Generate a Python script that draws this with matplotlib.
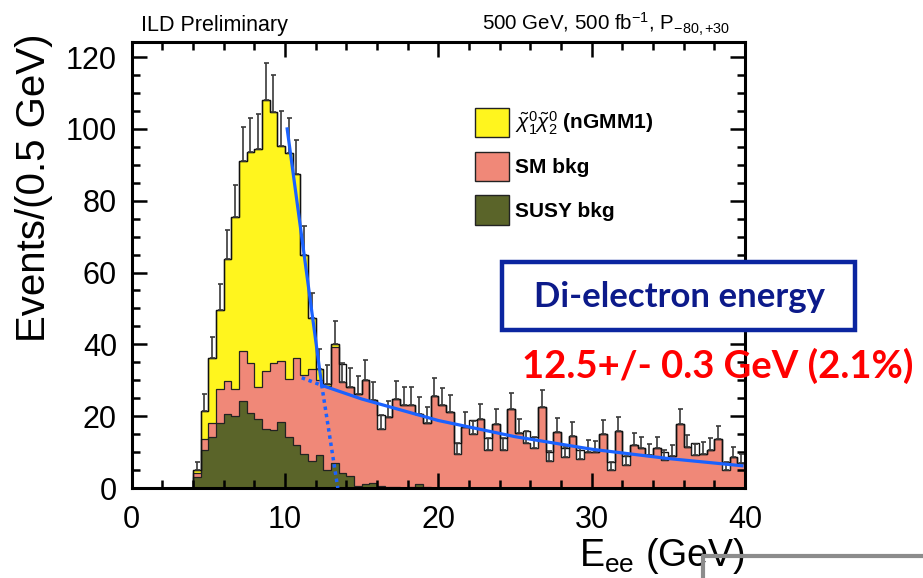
import numpy as np
import matplotlib
matplotlib.use('agg')
import matplotlib.pyplot as plt
from matplotlib.patches import Patch, Rectangle
from matplotlib.lines import Line2D
from matplotlib.ticker import MultipleLocator

plt.rcParams['font.family'] = ['Liberation Sans', 'DejaVu Sans']
plt.rcParams['mathtext.fontset'] = 'custom'
plt.rcParams['mathtext.rm'] = 'Liberation Sans'
plt.rcParams['mathtext.it'] = 'Liberation Sans:italic'
plt.rcParams['mathtext.bf'] = 'Liberation Sans:bold'

### data (0.5 GeV bins from 0 to 40 GeV, first 8 bins empty)
edges = np.arange(0, 40.5, 0.5)
n_empty = 8

susy = [3.1, 10.5, 14.2, 18.0, 20.6, 20.1, 24.1, 20.8, 19.2, 16.4, 16.2, 18.5, 14.1, 12.0,
        9.4, 7.4, 9.3, 5.1, 7.0, 4.3, 3.4, 0.5, 1.0, 1.3, 0.5, 0.3, 0.2, 0.0, 0.3, 1.0, 0.2] + [0.0] * 41
sm = [1.1, 3.1, 4.0, 9.5, 9.3, 7.4, 14.1, 14.1, 8.8, 16.2, 18.5, 17.0, 16.2, 24.1, 22.1, 25.6,
      20.7, 23.4, 32.4, 25.1, 24.7, 25.6, 29.2, 23.3, 15.8, 19.5, 24.7, 23.2, 22.9, 19.7, 18.0,
      25.5, 23.1, 21.2, 9.4, 17.0, 14.9, 19.1, 10.6, 17.8, 10.6, 21.9, 15.2, 12.4, 11.0, 22.6,
      7.6, 15.5, 8.5, 14.5, 8.2, 10.1, 9.9, 15.0, 5.0, 15.8, 6.4, 11.9, 11.0, 9.2, 11.0, 7.8,
      8.9, 17.7, 11.5, 9.2, 9.6, 10.6, 13.6, 5.0, 8.5, 6.9]
sig = [0.9, 7.9, 17.9, 22.2, 34.0, 48.1, 52.8, 58.6, 66.4, 75.4, 70.1, 59.7, 63.0, 51.4, 33.3,
       14.4, 3.0, 0.5, 0.8] + [0.0] * 53

# bins where the pseudo-data sits above the stack
excess_at = [13.75, 16.25, 21.25, 22.25, 23.25, 24.25, 25.75, 26.25, 27.25, 28.25, 29.25,
             31.25, 32.25, 34.75, 36.75, 38.75]
excess_top = [34.6, 20.3, 12.4, 18.9, 13.8, 13.8, 15.8, 14.3, 10.1, 11.2, 10.7, 7.3, 8.9,
              10.1, 12.6, 7.3]

# fit curves
edge_x = [10.15, 12.4]
edge_y = [100.0, 28.7]
edge_ext_x = [12.4, 13.45]
edge_ext_y = [28.7, 0.0]
bkg_dot_x = [11.1, 12.4]
bkg_dot_y = [30.7, 28.6]
bkg_x = [12.4, 15, 20, 25, 30, 35, 39.8]
bkg_y = [28.6, 24.8, 18.8, 14.3, 10.8, 8.2, 6.2]

c_sig = '#fff51e'
c_sm = '#f08878'
c_susy = '#5a6429'
c_fit = '#1a62ff'

susy = np.r_[np.zeros(n_empty), susy]
sm = np.r_[np.zeros(n_empty), sm]
sig = np.r_[np.zeros(n_empty), sig]
lvl1 = susy
lvl2 = susy + sm
total = susy + sm + sig
centers = 0.5 * (edges[1:] + edges[:-1])
data = total.copy()
data[np.searchsorted(centers, excess_at)] = excess_top

W, H = 923, 578
fig = plt.figure(figsize=(W / 100, H / 100), dpi=100)
ax = fig.add_axes([131.5 / W, 90 / H, 613.5 / W, 446 / H])

ax.stairs(lvl1, edges, baseline=0, fill=True, color=c_susy, lw=0)
ax.stairs(lvl2, edges, baseline=lvl1, fill=True, color=c_sm, lw=0)
ax.stairs(total, edges, baseline=lvl2, fill=True, color=c_sig, lw=0)
for lv in [lvl1, lvl2, total]:
    ax.stairs(lv, edges, color='#222222', lw=0.9)
ax.stairs(data, edges, color='#111111', lw=1.0)

m = total > 0
ax.errorbar(centers[m], total[m], yerr=[np.zeros(m.sum()), np.sqrt(total[m])], fmt='none',
            ecolor='#3a3a3a', elinewidth=1.2, capsize=1.8, capthick=1.2, zorder=3)

ax.plot(edge_x, edge_y, color=c_fit, lw=2.3, zorder=4)
ax.plot(edge_ext_x, edge_ext_y, color=c_fit, lw=2.5, ls=(0, (1, 1.1)), zorder=4)
ax.plot(bkg_dot_x, bkg_dot_y, color=c_fit, lw=2.5, ls=(0, (1, 1.1)), zorder=4)
ax.plot(bkg_x, bkg_y, color=c_fit, lw=2.3, zorder=4)

ax.set_xlim(0, 40)
ax.set_ylim(0, 124.2)
ax.xaxis.set_major_locator(MultipleLocator(10))
ax.xaxis.set_minor_locator(MultipleLocator(2))
ax.yaxis.set_major_locator(MultipleLocator(20))
ax.yaxis.set_minor_locator(MultipleLocator(5))
ax.tick_params(which='both', direction='in', top=True, right=True, width=1.8, labelsize=22)
ax.tick_params(which='major', length=11)
ax.tick_params(which='minor', length=5.5)
ax.tick_params(axis='x', pad=12)
ax.tick_params(axis='y', pad=10.5)
for s in ax.spines.values():
    s.set_linewidth(2.2)

def fx(x):
    return x / W

def fy(y):
    return 1 - y / H

fig.text(fx(34), fy(33), 'Events/(0.5 GeV)', rotation=90, ha='center', va='top', fontsize=29)
fig.text(fx(745), fy(566), r'E$_{\rm ee}$ (GeV)', ha='right', va='baseline', fontsize=27)
fig.text(fx(141), fy(31), 'ILD Preliminary', ha='left', va='baseline', fontsize=15.5)
fig.text(fx(482), fy(31), r'500 GeV, 500 fb$^{-1}$, P$_{-80,{+}30}$', ha='left', va='baseline',
         fontsize=14.8)

handles = [Patch(facecolor=c_sig, edgecolor='#222222', lw=1),
           Patch(facecolor=c_sm, edgecolor='#222222', lw=1),
           Patch(facecolor=c_susy, edgecolor='#222222', lw=1)]
labels = [r'$\tilde{\chi}^{0}_{1}\tilde{\chi}^{0}_{2}$ (nGMM1)', 'SM bkg', 'SUSY bkg']
fig.legend(handles, labels, loc='upper left', bbox_to_anchor=(fx(475), fy(108)),
           frameon=False, borderpad=0, borderaxespad=0, handlelength=1.63, handleheight=1.8,
           handletextpad=0.3, labelspacing=0.68, prop={'weight': 'bold', 'size': 15})

fig.add_artist(Rectangle((fx(502), fy(330)), (855 - 502) / W, (330 - 262) / H,
                         transform=fig.transFigure, facecolor='white', edgecolor='#0b25a0',
                         lw=3.2, zorder=5))
fig.text(fx(679), fy(297), 'Di-electron energy', ha='center', va='center', fontsize=25,
         family='Lato', weight='bold', color='#0c1a8a', zorder=6)
fig.text(fx(718), fy(366), '12.5+/- 0.3 GeV (2.1%)', ha='center', va='center', fontsize=27.5,
         family='Lato', weight='bold', color='#ff0000', zorder=6)

fig.add_artist(Line2D([fx(703), fx(703), 1.0], [0.0, fy(556), fy(556)], transform=fig.transFigure,
                      color='#8c8c8c', lw=3.0, zorder=5))

plt.savefig('out.png', format='png', dpi=100)
